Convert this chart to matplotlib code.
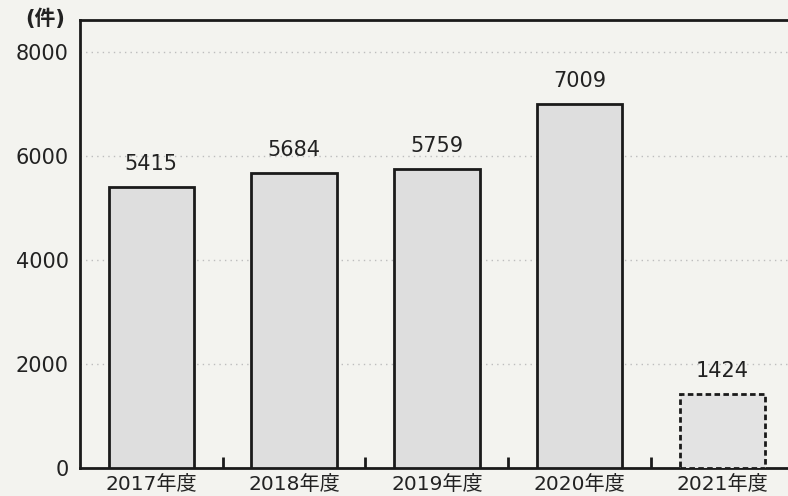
import matplotlib.pyplot as plt

plt.rcParams['font.family'] = ['DejaVu Sans', 'Noto Sans CJK JP']

years = ['2017年度', '2018年度', '2019年度', '2020年度', '2021年度']
counts = [5415, 5684, 5759, 7009, 1424]
yticks = [0, 2000, 4000, 6000, 8000]

fig = plt.figure(figsize=(7.88, 4.96), dpi=100, facecolor='#f3f3ef')
ax = fig.add_axes([0.1015, 0.0565, 0.8985, 0.9032])
ax.set_facecolor('#f3f3ef')

x = list(range(len(years)))
bars = ax.bar(x, counts, width=0.6, color='#dedede', edgecolor='#1a1a1a', linewidth=2, zorder=3)
last = bars[-1]
last.set_linestyle((0, (2, 1.2)))
last.set_facecolor('#e3e3e3')

for xi, v in zip(x, counts):
    ax.text(xi, v + 250, str(v), ha='center', va='bottom', fontsize=15, color='#222222')

ax.set_xlim(-0.5, 4.46)
ax.set_ylim(0, 8620)
ax.set_yticks(yticks)
ax.set_yticklabels([str(t) for t in yticks], fontsize=15, color='#222222')
ax.set_xticks(x)
ax.set_xticklabels(years, fontsize=14.5, color='#222222')
ax.set_xticks([0.5, 1.5, 2.5, 3.5], minor=True)
ax.tick_params(axis='x', which='major', length=0, pad=5)
ax.tick_params(axis='x', which='minor', direction='in', length=8, width=2, color='#1a1a1a')
ax.tick_params(axis='y', length=0, pad=8)
ax.grid(axis='y', linestyle=(0, (1, 3)), color='#bdbdbd', linewidth=1, zorder=0)

for s in ['left', 'top', 'bottom']:
    ax.spines[s].set_linewidth(2)
    ax.spines[s].set_color('#1a1a1a')
ax.spines['right'].set_visible(False)

fig.text(0.057, 0.962, '(件)', fontsize=15, fontweight='bold', color='#222222', va='center', ha='center')

fig.savefig('out.png', dpi=100, facecolor=fig.get_facecolor())
